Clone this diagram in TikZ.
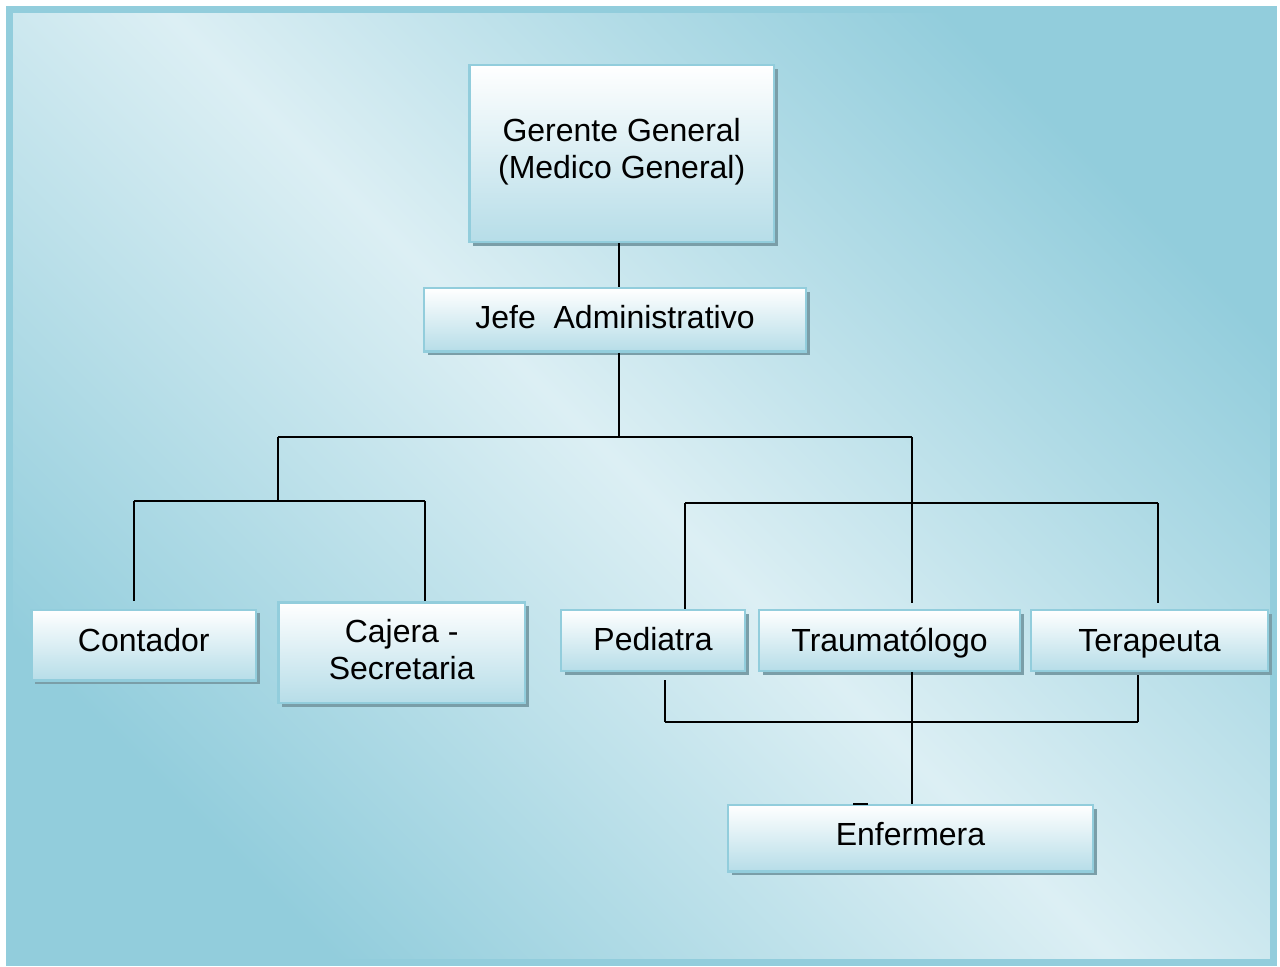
\documentclass[tikz,border=0pt]{standalone}
\usepackage{fontspec}
\setmainfont{Liberation Sans}
\usetikzlibrary{shadows}
\definecolor{bgdark}{RGB}{146,205,220}
\definecolor{bglight}{RGB}{220,239,244}
\definecolor{boxblue}{RGB}{182,221,232}
\definecolor{boxline}{RGB}{146,205,220}
\definecolor{shadowc}{RGB}{122,158,168}
\begin{document}
\begin{tikzpicture}[x=0.5pt, y=-0.5pt,
    caja/.style={rectangle, draw=boxline, line width=1.2pt, top color=white, bottom color=boxblue,
        drop shadow={shadow xshift=1.8pt, shadow yshift=-1.8pt, fill=shadowc, opacity=1},
        inner sep=0pt, align=center, font=\fontsize{16}{18.5}\selectfont},
    uno/.style={caja, text height=11.5pt, text depth=#1},
    linea/.style={line width=0.9pt, black}]
    \useasboundingbox (0,0) rectangle (1280,967);
    \draw[draw=bgdark, line width=3.5pt, left color=bgdark, right color=bgdark, middle color=bglight, shading angle=-45]
        (9,10) rectangle (1273,962);
    % cajas
    \node[caja, minimum width=152.3pt, minimum height=88.6pt] (gerente) at (621.7,153.7) {Gerente General\\(Medico General)\rule[-5.4pt]{0pt}{5.4pt}};
    \node[uno=3.3pt, minimum width=191pt, minimum height=31.7pt] (jefe) at (615,320) {Jefe\ \ Administrativo};
    \node[uno=5.1pt, minimum width=112.2pt, minimum height=35.4pt] (contador) at (143.8,645.3) {Contador};
    \node[caja, minimum width=123.3pt, minimum height=50.3pt] (cajera) at (401.7,653) {Cajera -\\Secretaria\rule[-3.5pt]{0pt}{3.5pt}};
    \node[uno=1.8pt, minimum width=92pt, minimum height=30.5pt] (pediatra) at (653,640.5) {Pediatra};
    \node[uno=0pt, minimum width=130.5pt, minimum height=30.5pt] (trauma) at (889.5,640.5) {Traumatólogo};
    \node[uno=0pt, minimum width=118.5pt, minimum height=30.5pt] (terapeuta) at (1149.5,640.5) {Terapeuta};
    \node[uno=4.8pt, minimum width=182.5pt, minimum height=33.3pt] (enfermera) at (910.5,838.3) {Enfermera};
    % puntos de union
    \coordinate (a) at (619,437);
    \coordinate (al) at (278,437);
    \coordinate (ar) at (912,437);
    \coordinate (bl) at (278,501);
    \coordinate (bl1) at (134,501);
    \coordinate (bl2) at (425,501);
    \coordinate (cl) at (685,503);
    \coordinate (cr) at (1158,503);
    \coordinate (dl) at (665,722);
    \coordinate (dm) at (912,722);
    \coordinate (dr) at (1138,722);
    % lineas
    \draw[linea] (gerente.south -| a) -- (jefe.north -| a);
    \draw[linea] (jefe.south -| a) -- (a);
    \draw[linea] (al) -- (ar);
    \draw[linea] (al) -- (bl);
    \draw[linea] (bl1) -- (bl2);
    \draw[linea] (bl1) -- ++(0,100);
    \draw[linea] (bl2) -- (cajera.north -| bl2);
    \draw[linea] (ar) -- ++(0,166);
    \draw[linea] (cl) -- (cr);
    \draw[linea] (cl) -- (pediatra.north -| cl);
    \draw[linea] (cr) -- ++(0,100);
    \draw[linea] (dl) -- ++(0,-42);
    \draw[linea] (dl) -- (dr);
    \draw[linea] (dr) -- ++(0,-47);
    \draw[linea] (trauma.south -| dm) -- (enfermera.north -| dm);
    \draw[linea] (853,804) -- (868,804);
\end{tikzpicture}
\end{document}
